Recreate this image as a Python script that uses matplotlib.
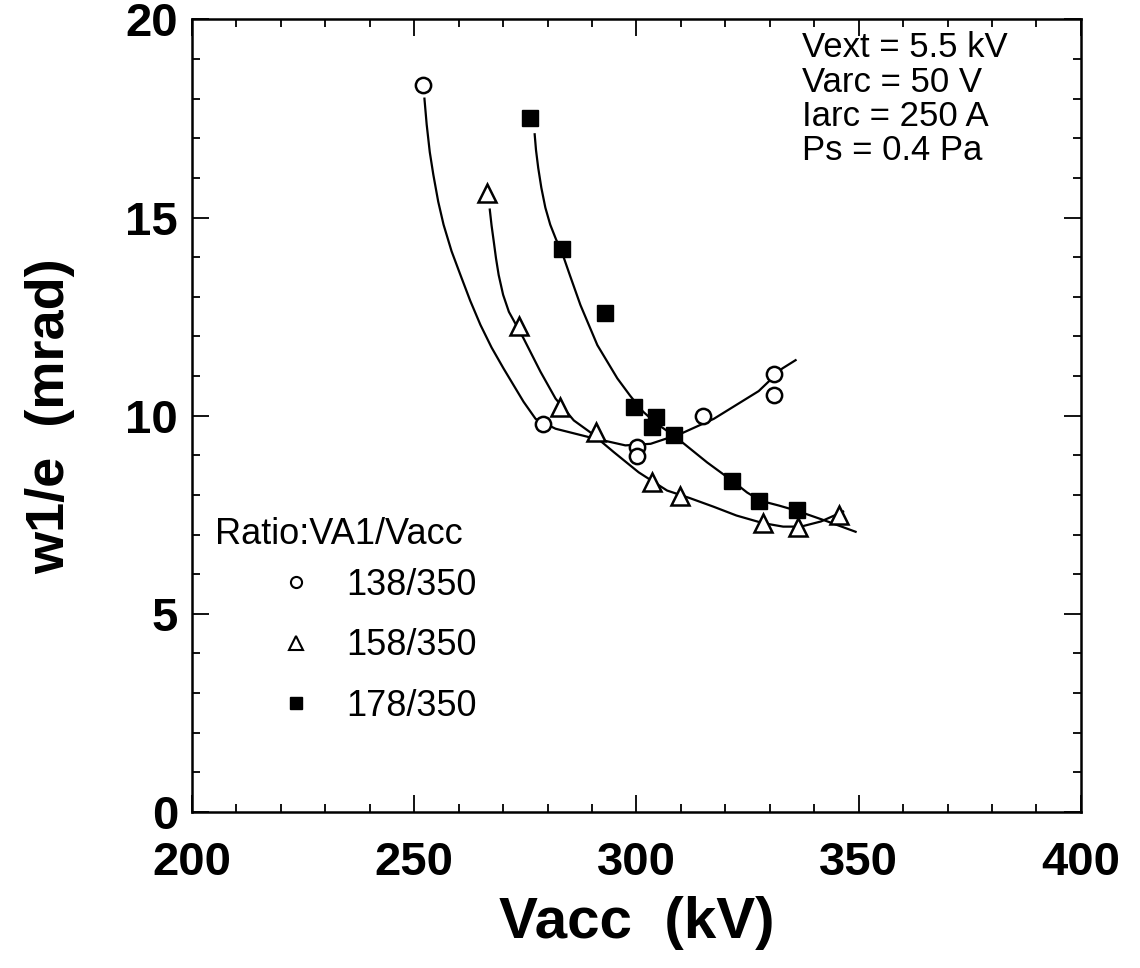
import matplotlib
matplotlib.use("Agg")
import matplotlib.pyplot as plt
from matplotlib.ticker import MultipleLocator

# measured points (Vacc in kV, w1/e in mrad)
circ_x = [252.0, 278.9, 300.2, 300.2, 315.0, 330.9, 330.9]
circ_y = [18.35, 9.78, 9.22, 8.97, 9.99, 11.06, 10.53]

tri_x = [266.4, 273.5, 282.9, 291.0, 303.5, 309.9, 328.4, 336.3, 345.5]
tri_y = [15.62, 12.25, 10.22, 9.58, 8.32, 7.98, 7.29, 7.19, 7.49]

sq_x = [276.1, 283.3, 293.0, 299.4, 303.5, 304.3, 308.4, 321.5, 327.5, 336.1]
sq_y = [17.50, 14.21, 12.58, 10.22, 9.71, 9.96, 9.50, 8.36, 7.85, 7.63]

# hand-drawn fit curves
circ_fit_x = [252.3, 252.8, 253.5, 254.3, 255.4, 256.6, 258.4, 260.4, 262.6, 264.9, 267.4,
              270.1, 274.6, 277.3, 281.8, 289.6, 297.5, 303.2, 309.9, 317.4, 327.5, 332.8, 335.8]
circ_fit_y = [18.00, 17.35, 16.65, 16.08, 15.40, 14.82, 14.15, 13.55, 12.90, 12.29, 11.72,
              11.19, 10.35, 9.92, 9.67, 9.45, 9.25, 9.29, 9.54, 9.92, 10.62, 11.19, 11.40]

tri_fit_x = [267.0, 267.4, 267.9, 268.4, 269.0, 270.0, 271.3, 274.6, 278.4, 281.8, 285.9, 289.6,
             294.9, 300.5, 306.9, 312.0, 317.4, 322.5, 328.4, 333.0, 337.0, 341.5, 346.5]
tri_fit_y = [15.20, 14.80, 14.39, 13.97, 13.55, 13.05, 12.62, 11.95, 11.11, 10.43, 9.88, 9.58,
             9.08, 8.57, 8.11, 7.92, 7.70, 7.48, 7.29, 7.20, 7.20, 7.33, 7.58]

sq_fit_x = [277.1, 277.4, 277.9, 278.6, 279.5, 280.6, 281.9, 283.3, 285.0, 287.4, 291.2, 295.7,
            298.6, 301.5, 304.5, 308.4, 315.9, 321.5, 324.9, 328.0, 332.1, 336.1, 342.5, 349.3]
sq_fit_y = [17.10, 16.70, 16.25, 15.75, 15.25, 14.82, 14.45, 14.10, 13.55, 12.79, 11.78, 10.94,
            10.50, 10.10, 9.80, 9.50, 8.82, 8.36, 8.06, 7.85, 7.73, 7.60, 7.35, 7.07]

labels = ["138/350", "158/350", "178/350"]
conditions = ["Vext = 5.5 kV", "Varc = 50 V", "Iarc = 250 A", "Ps = 0.4 Pa"]

plt.rcParams["font.family"] = ["Liberation Sans", "DejaVu Sans"]

fig = plt.figure(figsize=(11.4, 9.68), dpi=100)
ax = fig.add_axes([0.1684, 0.1612, 0.7798, 0.8188])

for fx, fy in [(circ_fit_x, circ_fit_y), (tri_fit_x, tri_fit_y), (sq_fit_x, sq_fit_y)]:
    ax.plot(fx, fy, color="black", lw=1.6, zorder=2)

ax.plot(circ_x, circ_y, ls="none", marker="o", ms=11, mfc="white", mec="black", mew=1.8, zorder=3)
ax.plot(tri_x, tri_y, ls="none", marker="^", ms=13, mfc="white", mec="black", mew=1.8, zorder=3)
ax.plot(sq_x, sq_y, ls="none", marker="s", ms=11, mfc="black", mec="black", zorder=3)

ax.set_xlim(200, 400)
ax.set_ylim(0, 20)
ax.xaxis.set_major_locator(MultipleLocator(50))
ax.xaxis.set_minor_locator(MultipleLocator(10))
ax.yaxis.set_major_locator(MultipleLocator(5))
ax.yaxis.set_minor_locator(MultipleLocator(1))
ax.tick_params(which="both", direction="in", top=True, right=True, width=1.3)
ax.tick_params(which="major", length=12, labelsize=34)
ax.tick_params(axis="x", which="major", pad=21)
ax.tick_params(axis="y", which="major", pad=10)
ax.tick_params(which="minor", length=6)
for lab in ax.get_xticklabels() + ax.get_yticklabels():
    lab.set_fontweight("bold")
for sp in ax.spines.values():
    sp.set_linewidth(1.8)

ax.set_xlabel("Vacc  (kV)", fontsize=42, fontweight="bold", labelpad=8)
ax.set_ylabel("w1/e  (mrad)", fontsize=39, fontweight="bold", labelpad=36)

# conditions block, top right
ax.text(0.686, 0.985, "\n".join(conditions), transform=ax.transAxes, ha="left", va="top",
        fontsize=25, linespacing=1.05)

# legend
ax.text(0.026, 0.350, "Ratio:VA1/Vacc", transform=ax.transAxes, ha="left", va="center",
        fontsize=26)
handles = [
    plt.Line2D([], [], ls="none", marker="o", ms=8, mfc="white", mec="black", mew=1.5),
    plt.Line2D([], [], ls="none", marker="^", ms=10, mfc="white", mec="black", mew=1.5),
    plt.Line2D([], [], ls="none", marker="s", ms=8, mfc="black", mec="black"),
]
leg = ax.legend(handles, labels, loc="upper left", bbox_to_anchor=(0.08, 0.326),
                frameon=False, prop={"size": 26},
                handlelength=1.0, handletextpad=0.9, labelspacing=0.7, borderaxespad=0)

fig.savefig("out.png", dpi=100)
